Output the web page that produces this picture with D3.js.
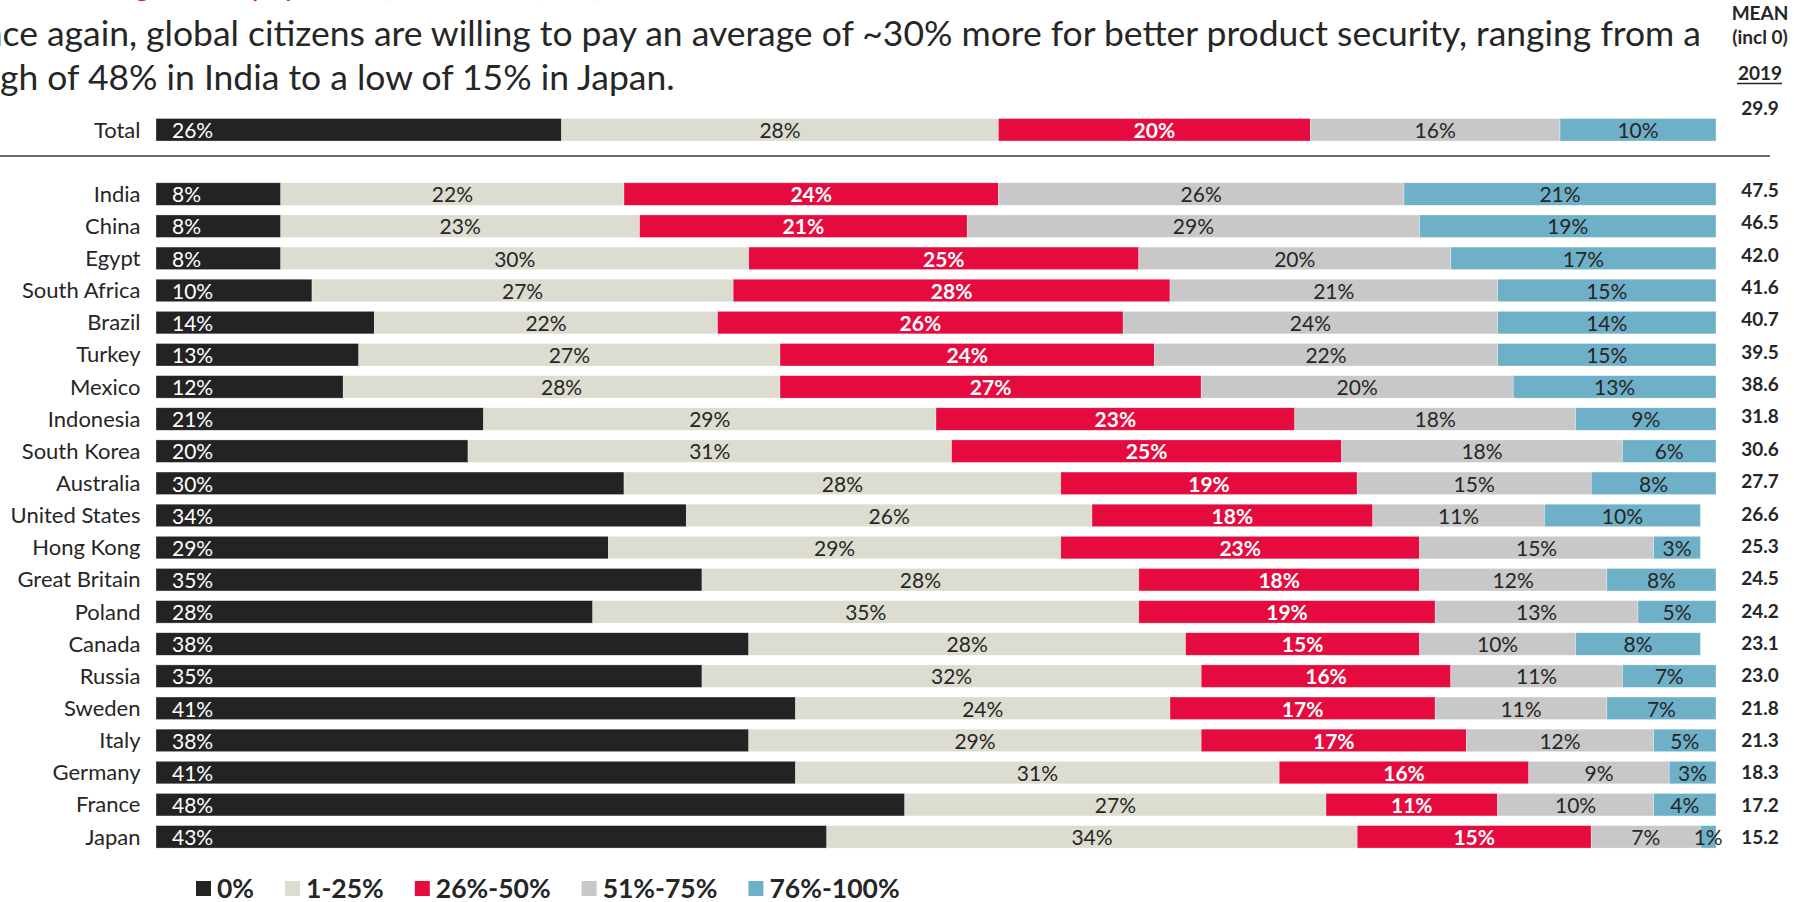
<!DOCTYPE html>
<html>
<head>
    <meta charset="utf-8" />
    <title>Willingness to pay more for product security</title>
    <style>
        body { margin: 0; background: #fff; }
        #chart { width: 1794px; height: 902px; overflow: hidden; }
        text { font-family: Lato, "Open Sans", sans-serif; }
    </style>
</head>
<body>
    <div id="chart"></div>
    <script src="https://cdnjs.cloudflare.com/ajax/libs/d3/7.8.5/d3.min.js"></script>
    <script>
        var categories = ["Total", "India", "China", "Egypt", "South Africa", "Brazil", "Turkey", "Mexico",
            "Indonesia", "South Korea", "Australia", "United States", "Hong Kong", "Great Britain", "Poland",
            "Canada", "Russia", "Sweden", "Italy", "Germany", "France", "Japan"];
        var pct0 = [26, 8, 8, 8, 10, 14, 13, 12, 21, 20, 30, 34, 29, 35, 28, 38, 35, 41, 38, 41, 48, 43];
        var pct1to25 = [28, 22, 23, 30, 27, 22, 27, 28, 29, 31, 28, 26, 29, 28, 35, 28, 32, 24, 29, 31, 27, 34];
        var pct26to50 = [20, 24, 21, 25, 28, 26, 24, 27, 23, 25, 19, 18, 23, 18, 19, 15, 16, 17, 17, 16, 11, 15];
        var pct51to75 = [16, 26, 29, 20, 21, 24, 22, 20, 18, 18, 15, 11, 15, 12, 13, 10, 11, 11, 12, 9, 10, 7];
        var pct76to100 = [10, 21, 19, 17, 15, 14, 15, 13, 9, 6, 8, 10, 3, 8, 5, 8, 7, 7, 5, 3, 4, 1];
        var means = ["29.9", "47.5", "46.5", "42.0", "41.6", "40.7", "39.5", "38.6", "31.8", "30.6", "27.7",
            "26.6", "25.3", "24.5", "24.2", "23.1", "23.0", "21.8", "21.3", "18.3", "17.2", "15.2"];
        var keys = ["0%", "1-25%", "26%-50%", "51%-75%", "76%-100%"];
        var colors = ["#232323", "#dddcd0", "#e60b3f", "#c8c8c8", "#6fb0c9"];

        var title1 = "Once again, global citizens are willing to pay an average of ~30% more for better product security, ranging from a";
        var title2 = "high of 48% in India to a low of 15% in Japan.";
        var topNote = "Willingness to pay more (Base: n=25,229)";

        var width = 1794, height = 902;
        var ink = "#262626";

        var svg = d3.select("#chart")
            .append("svg")
            .attr("width", width)
            .attr("height", height);

        // table for the stack
        var data = categories.map(function (c, i) {
            var row = { category: c };
            row[keys[0]] = pct0[i];
            row[keys[1]] = pct1to25[i];
            row[keys[2]] = pct26to50[i];
            row[keys[3]] = pct51to75[i];
            row[keys[4]] = pct76to100[i];
            return row;
        });
        var series = d3.stack().keys(keys)(data);

        // Total sits two rows above India, with an empty row in between
        var rows = ["Total", "_gap"].concat(categories.slice(1));
        var y = d3.scaleBand()
            .domain(rows)
            .range([113.7, 852.9])
            .paddingInner(0.3)
            .paddingOuter(0.15);
        var x = d3.scaleLinear()
            .domain([0, 100])
            .range([156, 1716])
            .clamp(true);
        var color = d3.scaleOrdinal().domain(keys).range(colors);
        var bh = y.bandwidth();

        // red line cut off at the top, only its lowest pixels show
        svg.append("text")
            .attr("x", 603).attr("y", -4)
            .attr("text-anchor", "end")
            .attr("font-size", 30)
            .attr("fill", "#e60b3f")
            .text(topNote);

        // title, fitted so that the visible part spans the page
        var probe = svg.append("text").attr("font-size", 40).text(title1.slice(title1.indexOf("ce again")));
        var fs = 40 * 1699 / probe.node().getComputedTextLength();
        probe.attr("font-size", fs).text("hi");
        var hiWidth = probe.node().getComputedTextLength();
        probe.remove();
        svg.append("text")
            .attr("x", 1701).attr("y", 46)
            .attr("text-anchor", "end")
            .attr("font-size", fs)
            .attr("fill", ink)
            .text(title1);
        svg.append("text")
            .attr("x", -hiWidth).attr("y", 90)
            .attr("font-size", fs)
            .attr("fill", ink)
            .text(title2);

        // separator under Total
        svg.append("line")
            .attr("x1", 0).attr("x2", 1770)
            .attr("y1", 156).attr("y2", 156)
            .attr("stroke", "#6e6e6e")
            .attr("stroke-width", 2);

        // bars
        var layer = svg.append("g").selectAll("g")
            .data(series)
            .enter().append("g")
            .attr("fill", function (d) { return color(d.key); });

        layer.selectAll("rect")
            .data(function (d) { return d; })
            .enter().append("rect")
            .attr("x", function (d) { return x(d[0]); })
            .attr("y", function (d) { return y(d.data.category); })
            .attr("width", function (d) { return x(d[1]) - x(d[0]); })
            .attr("height", bh)
            .attr("stroke", "#ffffff")
            .attr("stroke-opacity", 0.5)
            .attr("stroke-width", 0.6);

        // segment labels
        layer.each(function (s, si) {
            d3.select(this).selectAll("text")
                .data(s)
                .enter().append("text")
                .attr("x", function (d) {
                    return si === 0 ? x(d[0]) + 16 : (x(d[0]) + x(d[1])) / 2;
                })
                .attr("y", function (d) { return y(d.data.category) + 19.5; })
                .attr("text-anchor", si === 0 ? "start" : "middle")
                .attr("font-size", 21)
                .attr("font-weight", si === 2 ? "bold" : "normal")
                .attr("fill", si === 0 || si === 2 ? "#ffffff" : ink)
                .text(function (d) { return (d[1] - d[0]) + "%"; });
        });

        // category labels
        svg.append("g").selectAll("text")
            .data(categories)
            .enter().append("text")
            .attr("x", 140.5)
            .attr("y", function (d) { return y(d) + 19; })
            .attr("text-anchor", "end")
            .attr("font-size", 22)
            .attr("fill", ink)
            .text(function (d) { return d; });

        // mean column
        var yMean = d3.scalePoint().domain(categories.slice(1)).range([197, 844]);
        var head = svg.append("g")
            .attr("font-size", 19)
            .attr("font-weight", "bold")
            .attr("fill", ink)
            .attr("text-anchor", "middle");
        head.append("text").attr("x", 1760).attr("y", 20).text("MEAN");
        head.append("text").attr("x", 1760).attr("y", 44).text("(incl 0)");
        head.append("text").attr("x", 1760).attr("y", 80).text("2019");
        head.append("line")
            .attr("x1", 1737).attr("x2", 1782)
            .attr("y1", 83.5).attr("y2", 83.5)
            .attr("stroke", ink).attr("stroke-width", 1.6);
        head.selectAll("text.mean")
            .data(categories)
            .enter().append("text")
            .attr("class", "mean")
            .attr("x", 1760)
            .attr("y", function (d) { return d === "Total" ? 115 : yMean(d); })
            .text(function (d, i) { return means[i]; });

        // legend
        var lx = 196;
        var legend = svg.append("g");
        keys.forEach(function (k) {
            legend.append("rect")
                .attr("x", lx).attr("y", 881)
                .attr("width", 15).attr("height", 15)
                .attr("fill", color(k));
            var t = legend.append("text")
                .attr("x", lx + 21).attr("y", 897.5)
                .attr("font-size", 26.5)
                .attr("font-weight", "bold")
                .attr("fill", ink)
                .text(k);
            lx += 21 + t.node().getComputedTextLength() + 31;
        });
    </script>
</body>
</html>
